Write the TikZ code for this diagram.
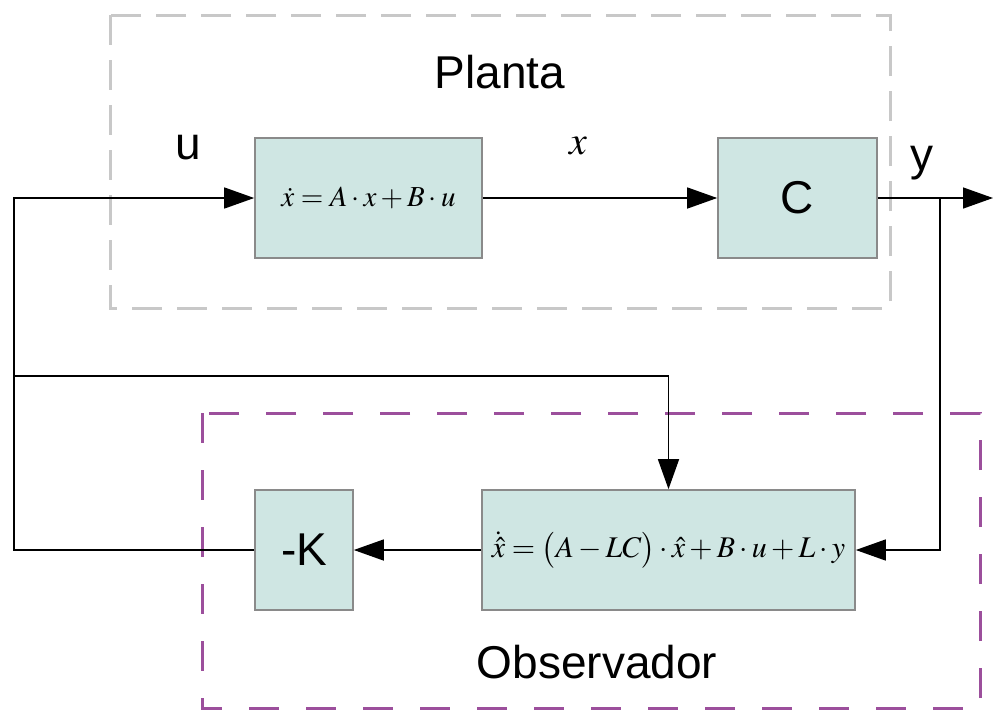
\documentclass[tikz,border=0pt]{standalone}
\usepackage{mathptmx}
\usepackage[no-math]{fontspec}
\setmainfont{Liberation Sans}
\usetikzlibrary{arrows.meta}
\definecolor{blockfill}{HTML}{CFE6E3}
\definecolor{blockline}{HTML}{8A8A8A}
\definecolor{plantline}{HTML}{C8C8C8}
\definecolor{obsline}{HTML}{9C4F9C}
\tikzset{
  blk/.style={draw=blockline, line width=1.6pt, fill=blockfill, inner sep=0pt},
  arr/.style={line width=1.4pt, -{Triangle[length=30pt,width=21pt]}},
  bigtxt/.style={font=\fontsize{46}{50}\selectfont, inner sep=0pt},
  eqtxt/.style={font=\fontsize{29}{33}\selectfont},
  eqtxtb/.style={font=\fontsize{30}{34}\selectfont},
}
\begin{document}
\begin{tikzpicture}[x=1pt,y=-1pt]
\useasboundingbox (0,0) rectangle (993,713);
% group frames
\draw[plantline, line width=3pt, dash pattern=on 30pt off 15pt] (110,15) rectangle (890,308);
\draw[obsline, line width=3pt, dash pattern=on 30pt off 27pt] (202,413) rectangle (980,708);
\node[bigtxt] (tplanta) at (500,72) {Planta};
\node[bigtxt] (tobs) at (597,662) {Observador};
% blocks
\node[blk, eqtxt, minimum width=227pt, minimum height=120pt] (b1) at (368.5,198) {$\dot x = A\cdot x + B\cdot u$};
\node[blk, bigtxt, minimum width=159pt, minimum height=120pt] (bc) at (797.5,198) {C};
\node[blk, eqtxtb, minimum width=373pt, minimum height=120pt] (bo) at (668.5,550) {$\dot{\hat{x}} = \bigl(A - LC\bigr)\cdot\hat{x} + B\cdot u + L\cdot y$};
\node[blk, bigtxt, minimum width=98pt, minimum height=120pt] (bk) at (304,550) {-K};
% signal labels
\node[bigtxt] (lu) at (188,148) {u};
\node[font=\fontsize{40}{44}\selectfont, inner sep=0pt] (lx) at (578,146) {$x$};
\node[bigtxt] (ly) at (922,163) {y};
% junction points
\coordinate (out) at (993,198);
\coordinate (br) at (940,198);
\coordinate (lt) at (14,198);
\coordinate (lm) at (14,376);
\coordinate (lb) at (14,550);
% connectors
\draw[arr] (b1.east) -- (bc.west);
\draw[arr] (bc.east) -- (out);
\draw[arr] (br) |- (bo.east);
\draw[arr] (bo.west) -- (bk.east);
\draw[arr] (bk.west) -- (lb) -- (lt) -- (b1.west);
\draw[arr] (lm) -| (bo.north);
\end{tikzpicture}
\end{document}
